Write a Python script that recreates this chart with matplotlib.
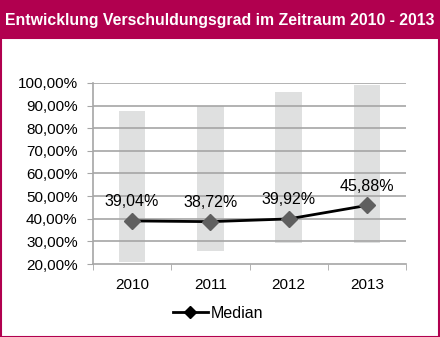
import numpy as np
import matplotlib.pyplot as plt
from matplotlib.patches import Rectangle
from matplotlib.lines import Line2D

plt.rcParams['font.family'] = ['Liberation Sans', 'DejaVu Sans']

years = ["2010", "2011", "2012", "2013"]
minimum = [20.8, 25.9, 29.4, 29.4]
maximum = [87.8, 90.0, 96.2, 98.9]
median = [39.04, 38.72, 39.92, 45.88]
labels = ["39,04%", "38,72%", "39,92%", "45,88%"]

magenta = "#B1004F"

fig = plt.figure(figsize=(4.4, 3.37), dpi=100)

# title bar and frame
fig.patches.append(Rectangle((0, 1 - 38 / 337), 1, 38 / 337, transform=fig.transFigure,
                             facecolor=magenta, edgecolor="none", zorder=0))
fig.patches.append(Rectangle((0.5 / 440, 0.5 / 337), 438.5 / 440, 1 - 38 / 337,
                             transform=fig.transFigure, facecolor="none",
                             edgecolor=magenta, linewidth=1.5, zorder=0))
fig.text(0.5, 1 - 20 / 337, "Entwicklung Verschuldungsgrad im Zeitraum 2010 - 2013",
         color="white", fontsize=11.4, fontweight="bold", ha="center", va="center")

ax = fig.add_axes([93 / 440, 73 / 337, 313 / 440, 181 / 337])
x = np.arange(len(years))
ax.bar(x, np.array(maximum) - np.array(minimum), bottom=minimum, width=0.34,
       color="#DFE0E0", zorder=1)
for yv in range(30, 101, 10):
    ax.axhline(yv, color="#A6A6A6", linewidth=1.2, zorder=2)
ax.plot(x, median, color="black", linewidth=2, zorder=3)
ax.plot(x, median, linestyle="none", marker="D", markersize=8.5,
        color="#5F5F5F", zorder=4)
for xi, yi, lab in zip(x, median, labels):
    ax.annotate(lab, (xi, yi), xytext=(0, 14), textcoords="offset points",
                ha="center", va="center", fontsize=11.5)

ax.set_xlim(-0.5, 3.5)
ax.set_ylim(20, 100)
ax.set_yticks(range(20, 101, 10))
ax.set_yticklabels([f"{v},00%" for v in range(20, 101, 10)], fontsize=11)
ax.set_xticks(x)
ax.set_xticklabels(years, fontsize=11)
ax.set_xticks(np.arange(-0.5, 4, 1), minor=True)
ax.tick_params(axis="x", which="major", length=0, pad=10)
ax.tick_params(axis="x", which="minor", length=4, color="#A6A6A6")
ax.tick_params(axis="y", length=4, color="#A6A6A6", pad=7)
for s in ["top", "right"]:
    ax.spines[s].set_visible(False)
for s in ["left", "bottom"]:
    ax.spines[s].set_color("#A6A6A6")
    ax.spines[s].set_linewidth(1.2)

handle = Line2D([], [], color="black", linewidth=2, marker="D", markersize=6)
fig.legend([handle], ["Median"], loc="center", bbox_to_anchor=(218 / 440, 1 - 313 / 337),
           frameon=False, fontsize=11.5, handlelength=2.2, handletextpad=0.2)

fig.savefig("out.png", dpi=100)
